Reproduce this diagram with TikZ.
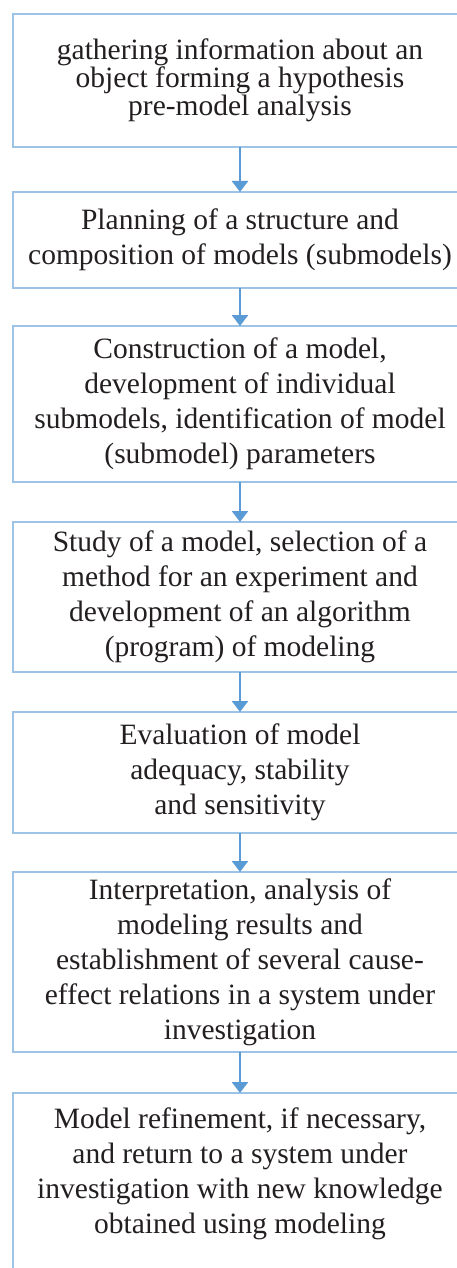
\documentclass[tikz,border=0pt]{standalone}
\usepackage{fontspec}
\setmainfont{Liberation Serif}
\usetikzlibrary{positioning,arrows.meta}
\definecolor{StageBorderBlue}{RGB}{157,195,230}
\definecolor{StageArrowBlue}{RGB}{91,155,213}
\definecolor{StageText}{RGB}{35,31,32}

\begin{document}
\begin{tikzpicture}[x=1pt,y=1pt,stage/.style={rectangle,draw=StageBorderBlue,line width=2.8pt,outer sep=0pt,minimum width=454pt,inner sep=0pt,align=center,text=StageText,font=\fontsize{29.5}{35}\selectfont},flow/.style={draw=StageArrowBlue,line width=2.6pt,-{Triangle[width=16pt,length=11pt]}}]
\useasboundingbox (0,0) rectangle (457,-1268);
\node[stage,minimum height=133pt,font=\fontsize{29.5}{26.5}\selectfont](s1) at(240,-80.5)
   {gathering information about an\\object forming a hypothesis\\pre-model analysis};
\node[stage,minimum height=96pt,below=45pt of s1](s2)
   {Planning of a structure and\\composition of models (submodels)};
\node[stage,minimum height=156pt,below=38pt of s2](s3)
   {Construction of a model,\\development of individual\\submodels, identification of model\\(submodel) parameters};
\node[stage,minimum height=150pt,below=40pt of s3](s4)
   {Study of a model, selection of a\\method for an experiment and\\development of an algorithm\\(program) of modeling};
\node[stage,minimum height=121pt,below=40pt of s4](s5)
   {Evaluation of model\\adequacy, stability\\and sensitivity};
\node[stage,minimum height=180pt,below=39pt of s5](s6)
   {Interpretation, analysis of\\modeling results and\\establishment of several cause-\\effect relations in a system under\\investigation};
\node[stage,inner ysep=15pt,text depth=200pt,below=41pt of s6](s7)
   {Model refinement, if necessary,\\and return to a system under\\investigation with new knowledge\\obtained using modeling};
\foreach \a/\b in %
{s1/s2,s2/s3,s3/s4,s4/s5,s5/s6,s6/s7} {
   \draw[flow] (\a) -- (\b);
}
\end{tikzpicture}
\end{document}
